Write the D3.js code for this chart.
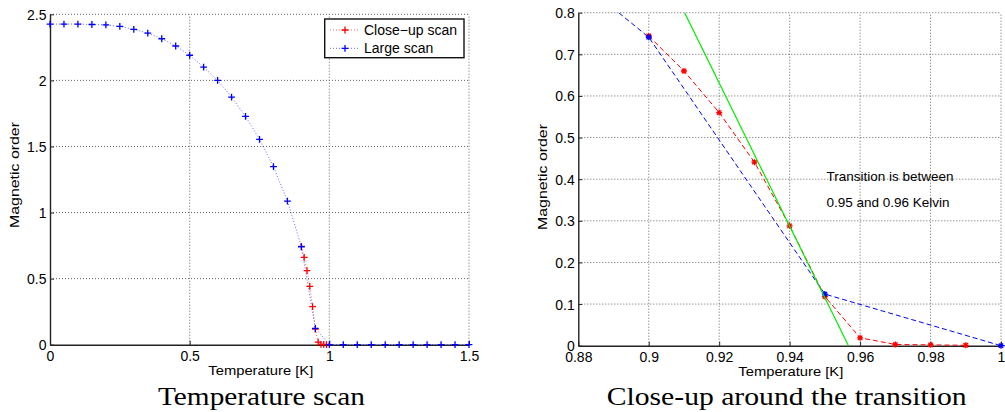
<!DOCTYPE html>
<html>
<head>
<meta charset="utf-8">
<script src="https://cdn.jsdelivr.net/npm/d3@7"></script>
<style>
  html, body { margin: 0; padding: 0; background: #fff; }
  svg { display: block; }
  text { font-family: "Liberation Sans", Arial, Helvetica, sans-serif; fill: #000; }
</style>
</head>
<body>
<svg id="chart" width="1005" height="412"></svg>
<script>
// ---- data ----
const largeT = [0, 0.05, 0.1, 0.15, 0.2, 0.25, 0.3, 0.35, 0.4, 0.45, 0.5, 0.55, 0.6, 0.65, 0.7, 0.75, 0.8, 0.85, 0.9, 0.95, 1.0,
                1.05, 1.1, 1.15, 1.2, 1.25, 1.3, 1.35, 1.4, 1.45, 1.5];
const largeM = [2.426, 2.426, 2.426, 2.423, 2.420, 2.408, 2.386, 2.358, 2.315, 2.260, 2.190, 2.100, 2.000, 1.874, 1.728, 1.554, 1.347, 1.087, 0.741, 0.124, 0,
                0, 0, 0, 0, 0, 0, 0, 0, 0, 0];
const closeT = [0.90, 0.91, 0.92, 0.93, 0.94, 0.95, 0.96, 0.97, 0.98, 0.99];
const closeM = [0.744, 0.660, 0.560, 0.441, 0.288, 0.118, 0.019, 0.003, 0.002, 0.001];
const fitT = [0.90, 0.9567];
const fitM = [0.975, 0];

const leftXTicks = [0, 0.5, 1, 1.5];
const leftYTicks = [0, 0.5, 1, 1.5, 2, 2.5];
const rightXTicks = [0.88, 0.9, 0.92, 0.94, 0.96, 0.98, 1.0];
const rightYTicks = [0, 0.1, 0.2, 0.3, 0.4, 0.5, 0.6, 0.7, 0.8];

const legendLabels = ["Close\u2212up scan", "Large scan"];
const annotation = ["Transition is between", "0.95 and 0.96 Kelvin"];
const xLabel = "Temperature [K]";
const yLabel = "Magnetic order";
const captions = ["Temperature scan", "Close-up around the transition"];

const svg = d3.select("#chart");
const fmt = v => String(+v.toFixed(2));

function drawAxes(g, x, y, xTicks, yTicks) {
  const [x0, x1] = x.range();
  const [y0, y1] = y.range();
  const grid = g.append("g").attr("stroke", "#666").attr("stroke-width", 1)
    .attr("stroke-dasharray", "1,2");
  xTicks.filter(t => t !== x.domain()[0]).forEach(t => {
    grid.append("line").attr("x1", x(t)).attr("x2", x(t)).attr("y1", y0).attr("y2", y1);
  });
  yTicks.filter(t => t !== y.domain()[0]).forEach(t => {
    grid.append("line").attr("x1", x0).attr("x2", x1).attr("y1", y(t)).attr("y2", y(t));
  });
  const xAxis = d3.axisBottom(x).tickValues(xTicks).tickFormat(fmt).tickSizeInner(-4).tickSizeOuter(0).tickPadding(6.5);
  const yAxis = d3.axisLeft(y).tickValues(yTicks).tickFormat(fmt).tickSizeInner(-4).tickSizeOuter(0).tickPadding(3.5);
  const gx = g.append("g").attr("transform", `translate(0,${y0})`).call(xAxis);
  const gy = g.append("g").attr("transform", `translate(${x0},0)`).call(yAxis);
  [gx, gy].forEach(a => {
    a.select(".domain").attr("stroke", "#222").attr("stroke-width", 1.4);
    a.selectAll(".tick line").attr("stroke", "#222");
    a.selectAll(".tick text").style("font-family", "Liberation Sans, Arial, sans-serif")
      .style("font-size", "14px").attr("fill", "#000");
  });
  gy.selectAll(".tick text").attr("dy", "0.36em");
}

function plus(sel, x, y, T, M, color) {
  const s = 3.4;
  sel.selectAll(null).data(T.map((t, i) => [t, M[i]])).enter()
    .append("path")
    .attr("d", d => { const px = x(d[0]), py = y(d[1]);
      return `M${px - s},${py}H${px + s}M${px},${py - s}V${py + s}`; })
    .attr("stroke", color).attr("stroke-width", 1.3).attr("fill", "none");
}
function star(sel, x, y, T, M, color) {
  const s = 3, d2 = 2.2;
  sel.selectAll(null).data(T.map((t, i) => [t, M[i]])).enter()
    .append("path")
    .attr("d", d => { const px = x(d[0]), py = y(d[1]);
      return `M${px - s},${py}H${px + s}M${px},${py - s}V${py + s}` +
             `M${px - d2},${py - d2}L${px + d2},${py + d2}M${px - d2},${py + d2}L${px + d2},${py - d2}`; })
    .attr("stroke", color).attr("stroke-width", 1.3).attr("fill", "none");
}

// ---------- Left plot ----------
const xL = d3.scaleLinear().domain([0, 1.5]).range([50, 469]);
const yL = d3.scaleLinear().domain([0, 2.5]).range([344.7, 14.3]);
const gL = svg.append("g");
drawAxes(gL, xL, yL, leftXTicks, leftYTicks);

const lineL = d3.line().x(d => xL(d[0])).y(d => yL(d[1]));
gL.append("path").attr("d", lineL(closeT.map((t, i) => [t, closeM[i]]))).attr("fill", "none")
  .attr("stroke", "#ff0000").attr("stroke-opacity", 0.6).attr("stroke-width", 1).attr("stroke-dasharray", "1,2");
gL.append("path").attr("d", lineL(largeT.map((t, i) => [t, largeM[i]]))).attr("fill", "none")
  .attr("stroke", "#0000ff").attr("stroke-opacity", 0.6).attr("stroke-width", 1).attr("stroke-dasharray", "1,2");
plus(gL, xL, yL, closeT, closeM, "#ff0000");
plus(gL, xL, yL, largeT, largeM, "#0000ff");

// legend
const lg = gL.append("g");
lg.append("rect").attr("x", 324.7).attr("y", 19).attr("width", 139.3).attr("height", 38.7)
  .attr("fill", "#fff").attr("stroke", "#111").attr("stroke-width", 1.4);
const legColors = ["#ff0000", "#0000ff"];
legendLabels.forEach((lab, i) => {
  const cy = 30 + i * 18.3;
  lg.append("line").attr("x1", 330).attr("x2", 360).attr("y1", cy).attr("y2", cy)
    .attr("stroke", legColors[i]).attr("stroke-opacity", 0.6).attr("stroke-dasharray", "1,2");
  lg.append("path").attr("d", `M${345 - 3.4},${cy}H${345 + 3.4}M345,${cy - 3.4}V${cy + 3.4}`)
    .attr("stroke", legColors[i]).attr("stroke-width", 1.3);
  lg.append("text").attr("x", 364).attr("y", cy + 5).style("font-size", "14px").text(lab);
});

// ---------- Right plot ----------
const xR = d3.scaleLinear().domain([0.88, 1.0]).range([578.3, 1001]);
const yR = d3.scaleLinear().domain([0, 0.8]).range([345.7, 12.7]);
const gR = svg.append("g");
drawAxes(gR, xR, yR, rightXTicks, rightYTicks);

svg.append("clipPath").attr("id", "clipR").append("rect")
  .attr("x", 578.3).attr("y", 12.7).attr("width", 1001 - 578.3 + 4).attr("height", 345.7 - 12.7 + 4);
const cR = gR.append("g").attr("clip-path", "url(#clipR)");
const lineR = d3.line().x(d => xR(d[0])).y(d => yR(d[1]));
cR.append("path").attr("d", lineR(closeT.map((t, i) => [t, closeM[i]]))).attr("fill", "none")
  .attr("stroke", "#ff0000").attr("stroke-width", 1).attr("stroke-dasharray", "5,3");
cR.append("path").attr("d", lineR(largeT.map((t, i) => [t, largeM[i]]))).attr("fill", "none")
  .attr("stroke", "#0000ff").attr("stroke-width", 1).attr("stroke-dasharray", "5,3");
star(cR, xR, yR, closeT, closeM, "#ff0000");
const inR = largeT.map((t, i) => [t, largeM[i]]).filter(d => d[0] >= 0.88 && d[0] <= 1.0001);
star(cR, xR, yR, inR.map(d => d[0]), inR.map(d => d[1]), "#0000ff");
cR.append("path").attr("d", lineR(fitT.map((t, i) => [t, fitM[i]]))).attr("fill", "none")
  .attr("stroke", "#00ee00").attr("stroke-width", 1.2);

annotation.forEach((t, i) => {
  gR.append("text").attr("x", 826.5).attr("y", 180.5 + i * 26.3).style("font-size", "13.5px").text(t);
});

// ---------- Labels & captions ----------
const labelData = [
  { cx: 260.8, by: 374.5, ycx: 19, ycy: 175 },
  { cx: 790.8, by: 376, ycx: 547, ycy: 177 }
];
labelData.forEach(d => {
  svg.append("text").attr("x", d.cx).attr("y", d.by).attr("text-anchor", "middle")
    .attr("textLength", 105).attr("lengthAdjust", "spacingAndGlyphs")
    .style("font-size", "13px").text(xLabel);
  svg.append("text").attr("transform", `translate(${d.ycx},${d.ycy}) rotate(-90)`)
    .attr("text-anchor", "middle").attr("textLength", 106).attr("lengthAdjust", "spacingAndGlyphs")
    .style("font-size", "13px").text(yLabel);
});
const capData = [{ cx: 261.5, w: 207 }, { cx: 786.7, w: 360 }];
captions.forEach((c, i) => {
  svg.append("text").attr("x", capData[i].cx).attr("y", 404.5).attr("text-anchor", "middle")
    .attr("textLength", capData[i].w).attr("lengthAdjust", "spacingAndGlyphs")
    .style("font-family", "Liberation Serif, 'Times New Roman', serif").style("font-size", "26px")
    .attr("fill", "#2a2a2a").text(c);
});
</script>
</body>
</html>
